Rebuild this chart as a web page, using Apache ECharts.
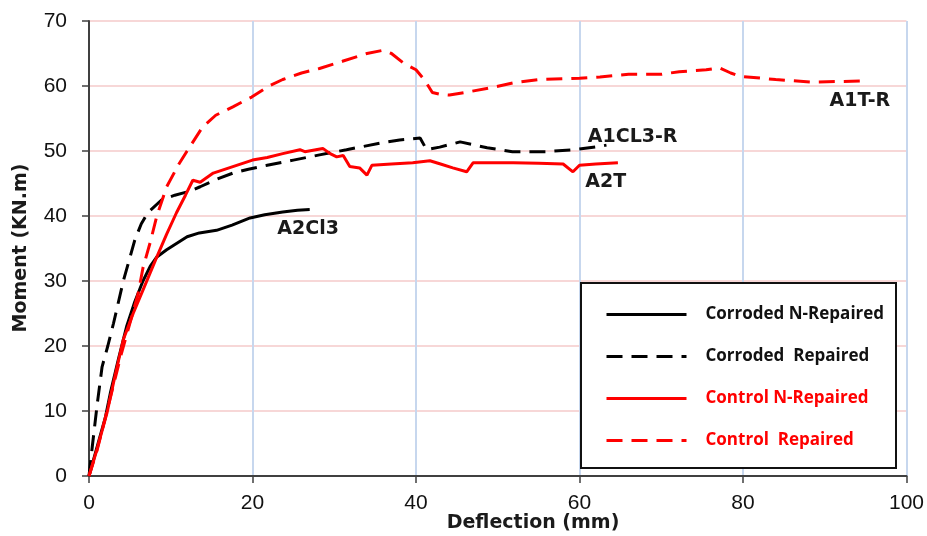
<!DOCTYPE html>
<html>
<head>
<meta charset="utf-8">
<script src="https://cdn.jsdelivr.net/npm/echarts@6/dist/echarts.min.js"></script>
<style>
  html, body { margin: 0; padding: 0; background: #fff; }
  #main { width: 927px; height: 536px; }
</style>
</head>
<body>
<div id="main"></div>
<script>
// [deflection mm, moment kN.m]
const corrodedNRepaired = [
    [0, 0], [1, 4.5], [2, 9], [2.6, 12.7], [3.6, 18], [4.6, 23], [5.6, 26.8], [6.6, 30],
    [7.5, 32.3], [8.3, 33.7], [9.5, 34.8], [12, 36.8], [13.5, 37.4], [15.6, 37.8],
    [17.5, 38.6], [19.7, 39.7], [21.5, 40.2], [23.7, 40.6], [25.5, 40.9], [27, 41]
];
const corrodedRepaired = [
    [0, 0], [0.4, 4.5], [1, 11], [1.6, 16.8], [2.3, 20], [3, 23.5], [4.2, 30],
    [5.6, 36.3], [6.4, 38.8], [7.2, 40.5], [8.9, 42.5], [10.5, 43.2], [12.3, 43.8],
    [13.6, 44.5], [15.5, 45.6], [17.6, 46.6], [19.5, 47.2], [21.8, 47.8], [25, 48.6],
    [28.2, 49.4], [31.5, 50.2], [35.6, 51.2], [38, 51.7], [40.5, 52], [41.3, 50.2],
    [42.9, 50.6], [45.4, 51.4], [48.7, 50.5], [51.8, 49.9], [55.9, 49.9], [59.2, 50.2],
    [62.5, 50.7], [63.3, 50.9]
];
const controlNRepaired = [
    [0, 0], [1, 4.2], [2.2, 9.7], [3.2, 15.5], [4.2, 21], [5.4, 25], [6.6, 28.6],
    [8.3, 33.7], [9.5, 37.2], [10.7, 40.5], [11.8, 43.2], [12.7, 45.5], [13.6, 45.2],
    [15.2, 46.6], [17.6, 47.6], [20, 48.6], [21.8, 49], [23.7, 49.6], [25.8, 50.2],
    [26.4, 49.9], [28.6, 50.4], [29.5, 49.6], [30.3, 49.1], [31.1, 49.3], [31.9, 47.6],
    [33.1, 47.4], [34, 46.3], [34.6, 47.8], [37, 48], [39.6, 48.2], [41.7, 48.5],
    [43, 48], [44.5, 47.4], [46.2, 46.8], [47, 48.2], [49, 48.2], [51.9, 48.2],
    [55, 48.1], [58, 48], [59.2, 46.8], [60, 47.8], [62, 48], [64.7, 48.2]
];
const controlRepaired = [
    [0, 0], [1, 4], [2, 9], [3, 14], [4, 19], [5, 23.5], [6, 28], [6.6, 32],
    [7.5, 36], [8.3, 40], [9.5, 44.5], [11, 48], [12, 50], [13.9, 53.7], [15.5, 55.5],
    [17.6, 56.8], [19.9, 58.3], [22, 60], [23.7, 61], [26, 62], [28.2, 62.7],
    [31, 63.8], [34, 65], [36, 65.5], [37, 65], [38.5, 63.5], [40, 62.5], [41, 61],
    [42, 59], [43, 58.7], [44.1, 58.6], [46, 59], [49.4, 59.8], [52, 60.5], [55.1, 61],
    [60, 61.2], [62.5, 61.4], [66, 61.8], [70, 61.8], [72.2, 62.2], [75.5, 62.5],
    [77.1, 62.8], [78.5, 62], [79.6, 61.5], [84, 61], [88.5, 60.6], [92, 60.7], [95.1, 60.8]
];

const seriesNames = ['Corroded N-Repaired', 'Corroded  Repaired', 'Control N-Repaired', 'Control  Repaired'];
const curveTags = ['A2Cl3', 'A1CL3-R', 'A2T', 'A1T-R'];
const tagPositions = [[26.8, 38], [66.5, 52.2], [63.2, 45.2], [94.3, 57.7]];
const xTicks = [0, 20, 40, 60, 80, 100];
const yTicks = [0, 10, 20, 30, 40, 50, 60, 70];

const tagLabel = {
    show: true,
    color: '#1a1a1a',
    fontFamily: 'DejaVu Sans',
    fontWeight: 'bold',
    fontSize: 19,
    formatter: p => p.name
};

function curve(name, data, color, dashed, i) {
    return {
        name: name,
        type: 'line',
        data: data,
        showSymbol: false,
        symbol: 'none',
        lineStyle: { color: color, width: 3, type: dashed ? [16, 9] : 'solid' },
        itemStyle: { color: color },
        z: 3,
        markPoint: {
            symbol: 'circle',
            symbolSize: 0,
            label: tagLabel,
            data: [{ name: curveTags[i], coord: tagPositions[i] }]
        }
    };
}

let myChart = echarts.init(document.getElementById('main'));

let options = {
    animation: false,
    backgroundColor: '#fff',
    grid: { left: 89, right: 20, top: 21, bottom: 60 },
    xAxis: {
        type: 'value',
        min: 0, max: 100, interval: 20,
        axisLine: { lineStyle: { color: '#404040', width: 2 } },
        axisTick: { show: true, length: 7, lineStyle: { color: '#404040', width: 1.5 } },
        axisLabel: {
            color: '#111', fontSize: 21, fontFamily: 'Liberation Sans', margin: 17,
            formatter: v => xTicks.includes(v) ? String(v) : ''
        },
        splitLine: { show: true, lineStyle: { color: '#c7d7ee', width: 2 } }
    },
    yAxis: {
        type: 'value',
        min: 0, max: 70, interval: 10,
        axisLine: { show: true, lineStyle: { color: '#404040', width: 2 } },
        axisTick: { show: true, length: 7, lineStyle: { color: '#404040', width: 1.5 } },
        axisLabel: {
            color: '#111', fontSize: 21, fontFamily: 'Liberation Sans', margin: 22,
            formatter: v => yTicks.includes(v) ? String(v) : ''
        },
        splitLine: { show: true, lineStyle: { color: '#f4caca', width: 1.5 } }
    },
    legend: {
        orient: 'vertical',
        left: 600,
        top: 301,
        itemWidth: 80,
        itemHeight: 14,
        itemGap: 25,
        itemStyle: { opacity: 0 },
        lineStyle: { width: 3 },
        textStyle: {
            fontFamily: 'Open Sans', fontWeight: 'bold', fontSize: 17,
            padding: [0, 0, 0, 14]
        },
        data: [
            { name: seriesNames[0], textStyle: { color: '#111' } },
            { name: seriesNames[1], textStyle: { color: '#111' } },
            { name: seriesNames[2], textStyle: { color: '#ff0000' } },
            { name: seriesNames[3], textStyle: { color: '#ff0000' } }
        ]
    },
    graphic: [
        {
            type: 'rect',
            shape: { x: 581, y: 283, width: 315, height: 185 },
            style: { fill: '#fff', stroke: '#111', lineWidth: 2 },
            z: 4
        },
        {
            type: 'text',
            x: 533, y: 523,
            style: {
                text: 'Deflection (mm)', fill: '#1a1a1a', fontSize: 19, fontWeight: 'bold',
                fontFamily: 'DejaVu Sans', align: 'center', verticalAlign: 'middle'
            }
        },
        {
            type: 'text',
            x: 21, y: 248,
            rotation: Math.PI / 2,
            style: {
                text: 'Moment (KN.m)', fill: '#1a1a1a', fontSize: 19, fontWeight: 'bold',
                fontFamily: 'DejaVu Sans', align: 'center', verticalAlign: 'middle'
            }
        }
    ],
    series: [
        curve(seriesNames[0], corrodedNRepaired, '#000000', false, 0),
        curve(seriesNames[1], corrodedRepaired, '#000000', true, 1),
        curve(seriesNames[2], controlNRepaired, '#ff0000', false, 2),
        curve(seriesNames[3], controlRepaired, '#ff0000', true, 3)
    ]
};

myChart.setOption(options);
</script>
</body>
</html>
